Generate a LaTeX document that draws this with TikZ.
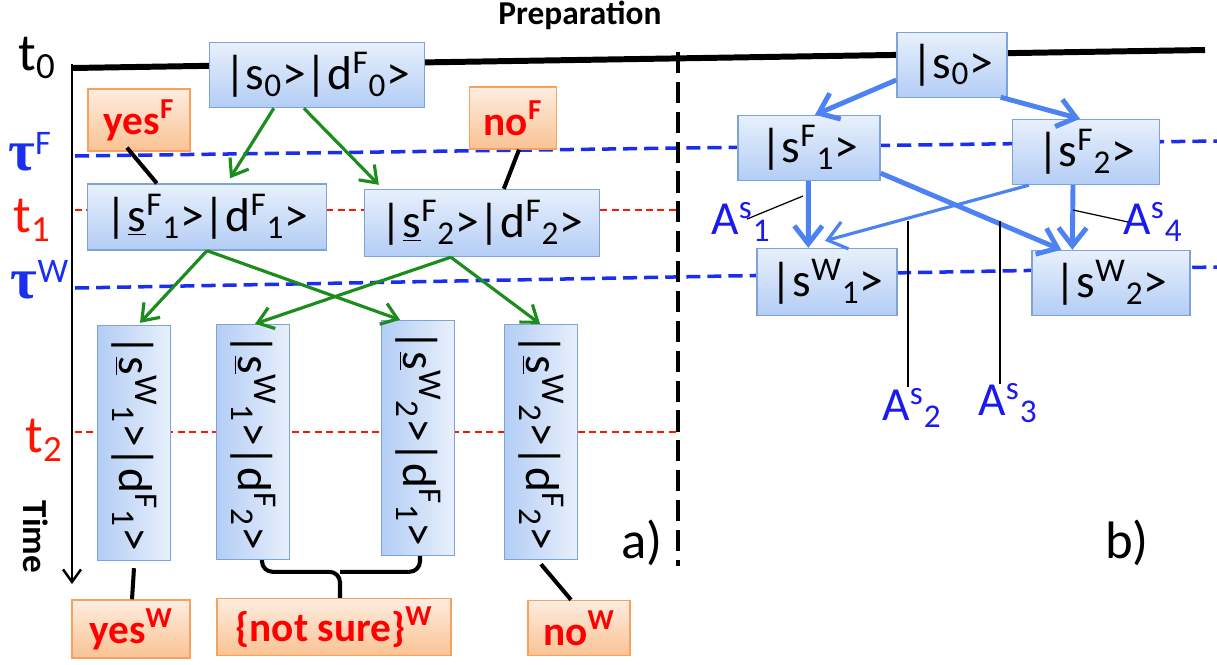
\documentclass[tikz,border=0pt]{standalone}
\usepackage{fontspec}
\usepackage{graphicx}
\setmainfont{Carlito}
\newfontfamily\taufont{Liberation Serif}
\usetikzlibrary{arrows.meta,backgrounds,calc,positioning}
\definecolor{stateedge}{HTML}{7EA3D8}
\definecolor{statetop}{HTML}{E8F0FC}
\definecolor{statebot}{HTML}{B3CDF5}
\definecolor{answedge}{HTML}{F5A25E}
\definecolor{answtop}{HTML}{FDEDE0}
\definecolor{answbot}{HTML}{FAC293}
\definecolor{answtext}{HTML}{FF0000}
\definecolor{treegreen}{HTML}{1C8C1C}
\definecolor{flowblue}{HTML}{4D82F2}
\definecolor{timeblue}{HTML}{1A2EF0}
\definecolor{timered}{HTML}{FF1400}
\definecolor{labelblue}{HTML}{1A1AF0}
\newcommand\statefont{\fontsize{27}{31}\selectfont}
\newcommand\answfont{\fontsize{23.5}{27}\selectfont\bfseries}
\newcommand\tickfont{\fontsize{28}{32}\selectfont}
\newcommand\tausym{{\taufont\bfseries\fontsize{33}{36}\selectfont τ}}
\tikzset{
  state/.style={
    draw=stateedge,
    top color=statetop,
    bottom color=statebot,
    line width=0.8pt,
    inner sep=0pt,
    minimum height=1.3cm,
    font=\statefont
  },
  vstate/.style={state, left color=statebot, right color=statetop, minimum width=1.46cm, minimum height=4.7cm},
  answer/.style={
    draw=answedge,
    top color=answtop,
    bottom color=answbot,
    line width=0.8pt,
    inner sep=0pt,
    minimum height=1.2cm,
    font=\answfont,
    text=answtext
  },
  branch/.style={-{Straight Barb[length=3mm,width=4.4mm]},line width=1.8pt,draw=treegreen},
  jump/.style={-{Straight Barb[length=3.6mm,width=5.6mm]},line width=2.8pt,draw=flowblue},
  link/.style={line width=2.3pt,draw=black},
  pointer/.style={line width=0.7pt,draw=black},
  bluedash/.style={line width=2pt,draw=timeblue,dash pattern=on 8pt off 4pt},
  reddash/.style={line width=0.9pt,draw=timered,dash pattern=on 4pt off 2.5pt},
  anno/.style={font=\statefont,text=labelblue,inner sep=1pt}
}
\begin{document}
\begin{tikzpicture}[x=0.02cm,y=-0.02cm]
  \useasboundingbox (0,0) rectangle (1217,664);

  % time marks
  \coordinate (t0l) at (72,68);
  \coordinate (t0r) at (1205,50);
  \coordinate (tFl) at (75,156);
  \coordinate (tFr) at (1217,141);
  \coordinate (t1l) at (75,210);
  \coordinate (t1r) at (680,210);
  \coordinate (tWl) at (75,288);
  \coordinate (tWr) at (1217,267);
  \coordinate (t2l) at (75,432);
  \coordinate (t2r) at (680,432);
  \coordinate (axtop) at (72,64);
  \coordinate (axbot) at (72,584);
  \coordinate (septop) at (678,52);
  \coordinate (sepbot) at (678,566);

  \node[font=\fontsize{19}{22}\selectfont\bfseries] (prep) at (580,15) {Preparation};
  \node[font=\fontsize{30}{34}\selectfont] (tzero) at (37,58) {t\textsubscript{0}};
  \node[font=\tickfont,text=timeblue] (tauF) at (30,152) {\tausym\textsuperscript{F}};
  \node[font=\fontsize{30}{34}\selectfont,text=timered] (tone) at (32,220) {t\textsubscript{1}};
  \node[font=\tickfont,text=timeblue] (tauW) at (40,280) {\tausym\textsuperscript{W}};
  \node[font=\fontsize{30}{34}\selectfont,text=timered] (ttwo) at (44,440) {t\textsubscript{2}};
  \node[font=\fontsize{20}{23}\selectfont\bfseries,rotate=-90] (time) at (36,537) {Time};
  \node[font=\fontsize{30}{34}\selectfont] (parta) at (642,543) {a)};
  \node[font=\fontsize{30}{34}\selectfont] (partb) at (1127,543) {b)};

  % a) states and outcomes
  \node[state, minimum width=4.3cm] (n0) at (317,75) {|s\textsubscript{0}>|d\textsuperscript{F}\textsubscript{0}>};
  \node[state, minimum width=4.78cm, minimum height=1.32cm] (n1) at (207,217) {|\underline{s}\textsuperscript{F}\textsubscript{1}>|d\textsuperscript{F}\textsubscript{1}>};
  \node[state, minimum width=4.7cm, minimum height=1.34cm] (n2) at (482,223) {|\underline{s}\textsuperscript{F}\textsubscript{2}>|d\textsuperscript{F}\textsubscript{2}>};
  \node[vstate] (v1) at (134,443) {\rotatebox{-90}{|\underline{s}\textsuperscript{W}\textsubscript{1}>|d\textsuperscript{F}\textsubscript{1}>}};
  \node[vstate] (v2) at (253,442) {\rotatebox{-90}{|\underline{s}\textsuperscript{W}\textsubscript{1}>|d\textsuperscript{F}\textsubscript{2}>}};
  \node[vstate] (v3) at (418,438) {\rotatebox{-90}{|\underline{s}\textsuperscript{W}\textsubscript{2}>|d\textsuperscript{F}\textsubscript{1}>}};
  \node[vstate] (v4) at (541,442) {\rotatebox{-90}{|\underline{s}\textsuperscript{W}\textsubscript{2}>|d\textsuperscript{F}\textsubscript{2}>}};

  \node[answer, minimum width=2.04cm, minimum height=1.24cm] (yesF) at (139,120) {yes\textsuperscript{F}};
  \node[answer, minimum width=1.74cm, minimum height=1.24cm] (noF) at (513,118) {no\textsuperscript{F}};
  \node[answer, minimum width=2.36cm, minimum height=1.16cm] (yesW) at (131,629) {yes\textsuperscript{W}};
  \node[answer, minimum width=4.68cm, minimum height=1.14cm] (notsure) at (334,627) {\{not sure\}\textsuperscript{W}};
  \node[answer, minimum width=2.04cm, minimum height=1.1cm] (noW) at (579,628) {no\textsuperscript{W}};

  \draw[branch] ($(n0.south west)+(65,0)$) -- ($(n1.north)+(23,-5)$);
  \draw[branch] ($(n0.south west)+(95,0)$) -- ($(n2.north west)+(15,-4)$);
  \draw[branch] (n1.south) -- ($(v1.north)+(6,-2)$);
  \draw[branch] (n1.south) -- ($(v3.north)+(-18,0)$);
  \draw[branch] ($(n2.south west)+(87,0)$) -- ($(v2.north)+(2,0)$);
  \draw[branch] ($(n2.south west)+(87,0)$) -- ($(v4.north)+(-1,0)$);

  \draw[link] ($(yesF.south)+(-12,-4)$) -- ($(n1.north west)+(70,0)$);
  \draw[link] ($(noF.south)+(6,0)$) -- ($(n2.north west)+(140,0)$);
  \draw[link] ($(v1.south)+(0,7)$) -- ($(yesW.north)+(1,0)$);
  \draw[link,rounded corners=6pt] ($(v2.south)+(9,0)$) |- ($(notsure.north)+(6,-26)$) -- ($(notsure.north)+(6,0)$);
  \draw[link,rounded corners=6pt] ($(v3.south)+(2,0)$) |- ($(notsure.north)+(6,-26)$);
  \draw[link] ($(v4.south)+(0,4)$) -- ($(noW.north)+(-8,0)$);

  % b) states
  \node[state, minimum width=2.2cm] (s0) at (952,65) {|s\textsubscript{0}>};
  \node[state, minimum width=2.84cm] (sF1) at (809,148) {|s\textsuperscript{F}\textsubscript{1}>};
  \node[state, minimum width=2.94cm] (sF2) at (1086,152) {|s\textsuperscript{F}\textsubscript{2}>};
  \node[state, minimum width=2.8cm, minimum height=1.34cm] (sW1) at (827,282) {|s\textsuperscript{W}\textsubscript{1}>};
  \node[state, minimum width=3.16cm] (sW2) at (1111,283) {|s\textsuperscript{W}\textsubscript{2}>};

  \draw[jump] ($(s0.west)+(0,15)$) -- ($(sF1.north)+(6,0)$);
  \draw[jump] ($(s0.south east)+(-7,-1)$) -- ($(sF2.north)+(-6,0)$);
  \draw[jump] ($(sF1.south west)+(71,0)$) -- ($(sW1.north west)+(52,0)$);
  \draw[jump] ($(sF1.south east)+(0,-8)$) -- ($(sW2.north west)+(30,0)$);
  \draw[jump,line width=1.8pt] ($(sF2.south west)+(17,0)$) -- ($(sW1.north)+(-2,-7)$);
  \draw[jump] ($(sF2.south)+(-13,0)$) -- ($(sW2.north west)+(41,0)$);

  \node[anno] (As1) at (741,222) {A\textsuperscript{s}\textsubscript{1}};
  \node[anno] (As2) at (912,408) {A\textsuperscript{s}\textsubscript{2}};
  \node[anno] (As3) at (1008,403) {A\textsuperscript{s}\textsubscript{3}};
  \node[anno] (As4) at (1153,222) {A\textsuperscript{s}\textsubscript{4}};
  \coordinate (a1end) at (803,196);
  \coordinate (a2end) at (908,221);
  \coordinate (a3end) at (1000,221);
  \coordinate (a4end) at (1073,210);
  \draw[pointer] ($(As1.center)+(6,-3)$) -- (a1end);
  \draw[pointer] ($(As2.north)+(-4,0)$) -- (a2end);
  \draw[pointer] ($(As3.north)+(-8,2)$) -- (a3end);
  \draw[pointer] ($(As4.center)+(-25,0)$) -- (a4end);

  \begin{scope}[on background layer]
    \draw[line width=3.4pt] (t0l) -- (t0r);
    \draw[bluedash] (tFl) -- (tFr);
    \draw[reddash] (t1l) -- (t1r);
    \draw[bluedash] (tWl) -- (tWr);
    \draw[reddash] (t2l) -- (t2r);
    \draw[line width=1.4pt,-{Straight Barb[length=2.5mm,width=3.6mm]}] (axtop) -- (axbot);
    \draw[line width=2.3pt,dash pattern=on 12pt off 5pt] (septop) -- (sepbot);
  \end{scope}
\end{tikzpicture}
\end{document}
